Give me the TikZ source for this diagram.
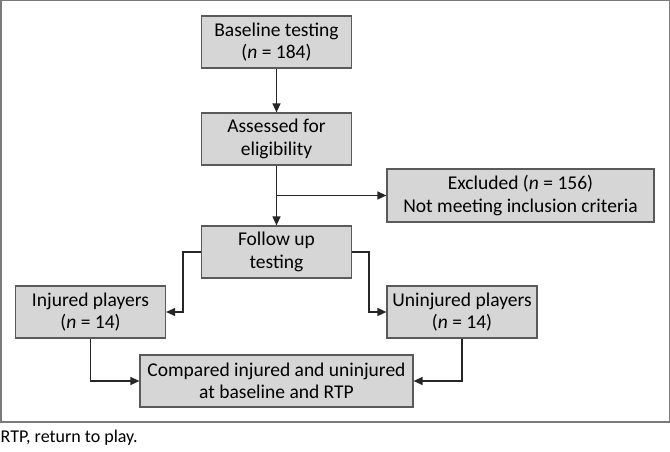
\documentclass[tikz,border=0pt]{standalone}
\usepackage{fontspec}
\setmainfont{Carlito}
\usetikzlibrary{arrows.meta}
\definecolor{boxfill}{HTML}{D6D6D6}
\definecolor{boxline}{HTML}{5A5A5A}
\definecolor{framec}{HTML}{7A7A7A}
\tikzset{
  stepbox/.style={draw=boxline, fill=boxfill, line width=1.2pt, inner sep=0pt,
    align=center, font=\fontsize{19.5}{22.5}\selectfont, minimum height=52pt},
  arr/.style={line width=1.3pt, draw=black!85, -{Triangle[length=9pt,width=8pt]}},
  ln/.style={line width=1.3pt, draw=black!85}
}
\begin{document}
\begin{tikzpicture}[x=1pt,y=-1pt]
\useasboundingbox (0,0) rectangle (670,452);
\draw[framec, line width=1.5pt] (0.75,0.75) rectangle (669.25,422);
\node[stepbox, minimum width=150pt] (base) at (276.5,42) {Baseline testing\\(\textit{n} = 184)};
\node[stepbox, minimum width=150pt] (assess) at (276.5,139) {Assessed for\\eligibility};
\node[stepbox, minimum width=267pt, minimum height=53pt] (excl) at (520.5,195.5) {Excluded (\textit{n} = 156)\\Not meeting inclusion criteria};
\node[stepbox, minimum width=150pt] (follow) at (276.5,252) {Follow up\\testing};
\node[stepbox, minimum width=150pt] (inj) at (90.5,312) {Injured players\\(\textit{n} = 14)};
\node[stepbox, minimum width=150pt] (uninj) at (462,312) {Uninjured players\\(\textit{n} = 14)};
\node[stepbox, minimum width=273pt] (comp) at (276.5,381) {Compared injured and uninjured\\at baseline and RTP};
\node[anchor=west, inner sep=0pt, font=\fontsize{18}{21}\selectfont] (cap) at (0.5,438) {RTP, return to play.};
\draw[arr] (base.south) -- (assess.north);
\draw[arr] (assess.south) -- (follow.north);
\draw[arr] (assess.south |- excl.west) -- (excl.west);
\draw[arr] (follow.west) -- ++(-18,0) |- (inj.east);
\draw[arr] (follow.east) -- ++(17,0) |- (uninj.west);
\draw[arr] (inj.south) |- (comp.west);
\draw[arr] (uninj.south) |- (comp.east);
\end{tikzpicture}
\end{document}
